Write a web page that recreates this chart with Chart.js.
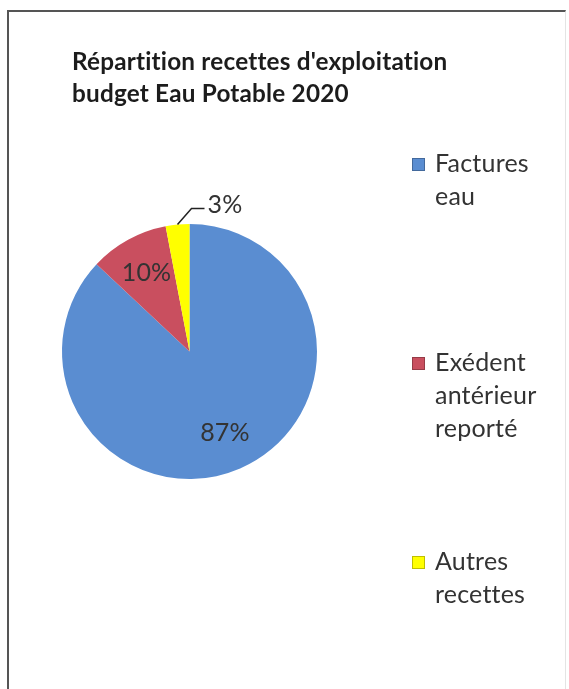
<!DOCTYPE html>
<html>
<head>
<meta charset="utf-8">
<script src="https://cdn.jsdelivr.net/npm/chart.js@4.4.1/dist/chart.umd.min.js"></script>
<style>
  body { margin: 0; background: #fff; }
  #frame {
    position: absolute; left: 7px; top: 10px; width: 556px; height: 720px;
    border-left: 2px solid #555; border-top: 2px solid #555; border-right: 1px solid #e4e4e4;
  }
  #pieChart { position: absolute; left: 0; top: 0; }
</style>
</head>
<body>
<div id="frame"></div>
<canvas id="pieChart" width="569" height="689"></canvas>
<script>
// chart data
var titleLines = ["Répartition recettes d'exploitation", "budget Eau Potable 2020"];
var categories = [["Factures", "eau"], ["Exédent", "antérieur", "reporté"], ["Autres", "recettes"]];
var shares = [87, 10, 3];
var sliceColors = ["#5A8DD1", "#C94F5F", "#FFFF00"];

var textColor = "#333";
var fontFamily = "Lato, 'Open Sans', sans-serif";

// draws title, percent labels and the legend the way excel does
var excelDecor = {
  id: "excelDecor",
  afterDatasetsDraw: function(chart) {
    var ctx = chart.ctx;
    var meta = chart.getDatasetMeta(0);
    var total = shares.reduce(function(a, b) { return a + b; }, 0);

    ctx.save();
    // a tiny letter spacing keeps chrome from using the ti / tt ligatures
    ctx.letterSpacing = "0.2px";

    // title
    ctx.fillStyle = "#1c1c1c";
    ctx.font = "bold 24.3px " + fontFamily;
    ctx.textAlign = "left";
    ctx.textBaseline = "alphabetic";
    titleLines.forEach(function(line, i) {
      ctx.fillText(line, 72, 70 + i * 32);
    });

    // percent labels
    ctx.font = "25px " + fontFamily;
    ctx.fillStyle = textColor;
    meta.data.forEach(function(arc, i) {
      var pct = Math.round(shares[i] / total * 100) + "%";
      var mid = (arc.startAngle + arc.endAngle) / 2;
      if (shares[i] / total >= 0.05) {
        var r = arc.outerRadius * 0.7;
        ctx.textAlign = "center";
        ctx.textBaseline = "middle";
        ctx.fillText(pct, arc.x + Math.cos(mid) * r, arc.y + Math.sin(mid) * r);
      } else {
        // small slice: label outside with a leader line
        var x0 = arc.x + Math.cos(mid) * arc.outerRadius;
        var y0 = arc.y + Math.sin(mid) * arc.outerRadius;
        var x1 = x0 + 14, y1 = y0 - 16;
        ctx.strokeStyle = "#222";
        ctx.lineWidth = 1.5;
        ctx.beginPath();
        ctx.moveTo(x0, y0);
        ctx.lineTo(x1, y1);
        ctx.lineTo(x1 + 13, y1);
        ctx.stroke();
        ctx.textAlign = "left";
        ctx.textBaseline = "middle";
        ctx.fillText(pct, x1 + 16, y1 - 4);
      }
    });

    // legend
    var legendX = 412, legendTop = 172, legendStep = 199, lineH = 33;
    categories.forEach(function(lines, i) {
      var base = legendTop + i * legendStep;
      ctx.fillStyle = sliceColors[i];
      ctx.fillRect(legendX, base - 14, 13, 13);
      ctx.strokeStyle = "rgba(0,0,0,0.25)";
      ctx.lineWidth = 1;
      ctx.strokeRect(legendX + 0.5, base - 13.5, 12, 12);
      ctx.fillStyle = textColor;
      ctx.textAlign = "left";
      ctx.textBaseline = "alphabetic";
      lines.forEach(function(txt, j) {
        ctx.fillText(txt, legendX + 23, base + j * lineH);
      });
    });
    ctx.restore();
  }
};

function buildChart() {
  new Chart(document.getElementById("pieChart"), {
    type: "pie",
    data: {
      labels: categories,
      datasets: [{
        data: shares,
        backgroundColor: sliceColors,
        borderWidth: 0
      }]
    },
    options: {
      responsive: false,
      animation: false,
      layout: {
        padding: { left: 62, right: 252, top: 224, bottom: 210 }
      },
      plugins: {
        legend: { display: false },
        title: { display: false },
        tooltip: { enabled: false }
      }
    },
    plugins: [excelDecor]
  });
}

document.fonts.load("bold 24.3px Lato").then(buildChart, buildChart);
</script>
</body>
</html>
